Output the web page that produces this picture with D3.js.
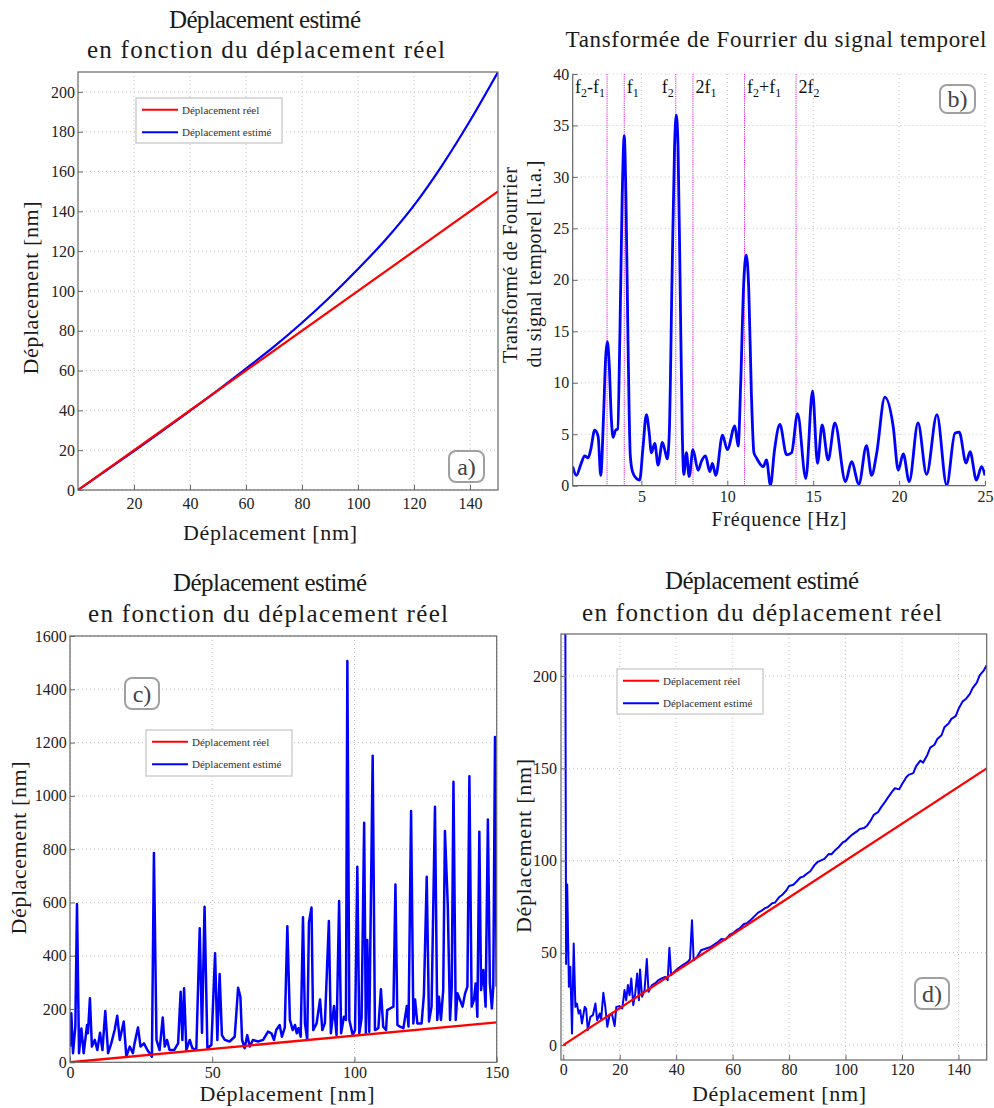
<!DOCTYPE html>
<html><head><meta charset="utf-8">
<script src="https://cdn.jsdelivr.net/npm/d3@7"></script>
<style>body{margin:0;background:#fff}</style>
</head><body>
<svg id="chart" width="994" height="1108"></svg>
<script>
const FONT = "Liberation Serif, serif";

// ---------- Panel a ----------
const aXTicks = [20, 40, 60, 80, 100, 120, 140];
const aYTicks = [0, 20, 40, 60, 80, 100, 120, 140, 160, 180, 200];
const aRealX = [0, 150];
const aRealY = [0, 150];
const aEstX = [0, 10, 20, 30, 40, 50, 60, 70, 80, 90, 100, 110, 120, 130, 140, 150];
const aEstY = [0, 9.8, 19.6, 29.6, 39.8, 50.2, 61, 72, 84, 97, 111, 126, 143, 163, 185.5, 210];

// ---------- Panel b ----------
const bXTicks = [5, 10, 15, 20, 25];
const bYTicks = [0, 5, 10, 15, 20, 25, 30, 35, 40];
const bMarkers = [3, 4, 7, 8, 11, 14];
const bFreq = [1.0, 1.21, 1.5, 1.7, 1.9, 2.05, 2.28, 2.48, 2.63, 2.8, 2.92, 3.02, 3.12, 3.25, 3.35, 3.5, 3.62, 3.75, 3.88, 4.0, 4.1, 4.22, 4.35, 4.48, 4.71, 4.9, 5.08, 5.29, 5.45, 5.58, 5.78, 5.97, 6.22, 6.4, 6.5, 6.62, 6.78, 6.93, 7.03, 7.13, 7.25, 7.38, 7.47, 7.62, 7.78, 8.0, 8.3, 8.5, 8.73, 8.98, 9.13, 9.33, 9.72, 10.0, 10.44, 10.63, 10.78, 10.95, 11.1, 11.25, 11.4, 11.55, 11.7, 12.09, 12.28, 12.51, 12.75, 13.06, 13.45, 13.74, 14.09, 14.57, 14.96, 15.25, 15.52, 15.87, 16.26, 16.88, 17.23, 17.66, 18.1, 18.4, 18.69, 19.17, 19.66, 19.95, 20.24, 20.59, 21.1, 21.6, 22.2, 22.77, 23.25, 23.5, 23.9, 24.13, 24.5, 24.8, 25.0];
const bAmp = [1.85, 1.0, 2.2, 2.9, 2.7, 3.5, 5.4, 4.8, 1.0, 7, 12.5, 14.0, 12, 6.5, 4.7, 5.4, 5.5, 15, 28, 34, 28, 14, 3, 1.36, 0.7, 0.55, 3.5, 6.9, 5.2, 3.2, 4.1, 2.0, 4.2, 3.2, 2.6, 5, 20, 33, 36, 33, 20, 5, 1.1, 3.2, 0.9, 3.5, 1.5, 2.4, 2.9, 1.36, 2.17, 1.0, 4.9, 3.5, 5.8, 3.85, 10, 19.5, 22.4, 19, 9, 3.2, 2.7, 1.85, 2.5, 0.05, 3.5, 5.95, 3.0, 3.2, 7.0, 0.7, 9.2, 2.17, 5.9, 2.5, 6.1, 0.4, 2.33, 0.16, 3.9, 1.0, 3.1, 8.6, 5.7, 1.5, 3.1, 0.4, 6.1, 1.1, 6.9, 0.06, 5.1, 5.2, 2.2, 3.3, 0.55, 1.85, 1.0];
// labels: segments [text, isSub]
const bLabels = [
  {at: 3, anchor: "end", segs: [["f", 0], ["2", 1], ["-f", 0], ["1", 1]]},
  {at: 4, anchor: "start", segs: [["f", 0], ["1", 1]]},
  {at: 7, anchor: "end", segs: [["f", 0], ["2", 1]]},
  {at: 8, anchor: "start", segs: [["2f", 0], ["1", 1]]},
  {at: 11, anchor: "start", segs: [["f", 0], ["2", 1], ["+f", 0], ["1", 1]]},
  {at: 14, anchor: "start", segs: [["2f", 0], ["2", 1]]}
];

// ---------- Panel c ----------
const cXTicks = [0, 50, 100, 150];
const cYTicks = [0, 200, 400, 600, 800, 1000, 1200, 1400, 1600];
const cRealX = [0, 150];
const cRealY = [0, 150];
const cEstX = [0, 0.47, 1.06, 1.88, 2.46, 3.17, 4.0, 4.8, 6.0, 6.3, 7.0, 7.7, 8.7, 9.6, 10.55, 11.4, 12.4, 13.4, 14.5, 15.7, 16.6, 17.5, 18.9, 19.8, 21, 22.1, 22.7, 23.9, 24.8, 26, 27.2, 28, 28.8, 29.5, 30.4, 31.5, 32.6, 33.3, 34.1, 35, 36.6, 38, 38.9, 39.5, 40.1, 40.9, 42.1, 43, 44.4, 45.6, 46.4, 47.3, 48.3, 49.7, 51, 51.8, 52.6, 53.4, 54.4, 56.1, 57.9, 59.1, 59.9, 60.5, 61.4, 62.3, 63.2, 64.3, 66.1, 67.9, 69.6, 70.8, 71.7, 72.5, 73.7, 74.5, 75.5, 76.4, 77.3, 78.3, 79.1, 79.7, 80.3, 81.1, 81.9, 82.6, 83.4, 84, 84.9, 85.5, 86.7, 87.9, 88.7, 89.6, 91, 91.7, 92.8, 93.7, 94.6, 95.3, 96.3, 97, 97.5, 98.2, 99.4, 100.2, 101, 101.7, 102.5, 103.4, 104, 104.5, 105.2, 106.4, 107.2, 108.4, 109.3, 110.1, 111.1, 111.5, 112.5, 113.7, 114.4, 115.1, 116, 117.2, 118.4, 119, 119.9, 120.7, 121.3, 122.1, 123.6, 124.4, 125.4, 126.2, 127.1, 128.3, 129.1, 129.7, 130.4, 131.2, 131.8, 132.8, 133.6, 134.2, 134.8, 135.6, 136.2, 137.1, 138, 138.9, 139.7, 140.4, 141.2, 142, 142.6, 143.2, 143.9, 144.5, 145.3, 146.1, 146.9, 147.6, 148.3, 148.8, 149.4, 150];
const cEstY = [58, 184, 34, 134, 594, 34, 127, 34, 140, 109, 240, 59, 84, 46, 111, 46, 193, 34, 71, 121, 175, 84, 153, 21, 59, 34, 71, 131, 59, 71, 46, 34, 21, 786, 84, 46, 168, 59, 84, 46, 46, 71, 265, 84, 278, 46, 84, 53, 46, 503, 111, 584, 53, 65, 409, 84, 331, 102, 84, 78, 96, 280, 246, 84, 53, 102, 59, 84, 78, 84, 115, 109, 84, 121, 140, 96, 130, 511, 159, 121, 140, 109, 128, 96, 544, 146, 84, 525, 581, 121, 146, 236, 121, 146, 530, 109, 211, 102, 605, 109, 171, 159, 1506, 159, 102, 121, 734, 109, 165, 899, 109, 459, 115, 1151, 121, 128, 274, 134, 121, 196, 202, 209, 667, 140, 134, 128, 211, 134, 943, 146, 236, 146, 146, 252, 696, 153, 209, 959, 159, 246, 159, 271, 868, 590, 159, 284, 1053, 159, 259, 234, 209, 259, 284, 1074, 209, 234, 296, 171, 865, 271, 346, 209, 911, 296, 202, 284, 1221, 284];

// ---------- Panel d ----------
const dXTicks = [0, 20, 40, 60, 80, 100, 120, 140];
const dYTicks = [0, 50, 100, 150, 200];
const dRealX = [0, 150];
const dRealY = [0, 150];
const dEstX = [0.6, 1.0, 1.4, 2.0, 2.5, 3.1, 3.7, 4.3, 4.85, 5.45, 6.0, 6.6, 7.6, 8.1, 8.7, 9.6, 10.5, 11.4, 12.0, 12.9, 13.4, 14.2, 14.9, 15.6, 16.4, 17.2, 18.2, 18.8, 19.9, 20.9, 21.7, 22.3, 22.9, 23.5, 24.1, 24.8, 25.5, 26.2, 26.8, 27.2, 27.9, 28.8, 29.6, 30.2, 31.4, 32.5, 33.7, 34.9, 36.1, 37, 37.6, 38.2, 39.4, 40.6, 42.3, 44.1, 44.9, 45.6, 46.2, 47.4, 48.8, 50.6, 52.3, 54.5, 56, 57.5, 59, 60, 61.5, 62.5, 64, 65, 66.5, 67.5, 69, 70, 71.5, 72.5, 74, 75, 76.5, 77.5, 79, 80, 81.5, 82.5, 84, 85, 86.5, 87.5, 89, 90, 91.5, 92.5, 94, 95, 96.5, 97.5, 99, 100, 101.5, 102.5, 104, 105, 106.5, 107.5, 109, 110, 111.5, 112.5, 114, 115, 116.5, 117.5, 119, 120, 121.5, 122.5, 124, 125, 126.5, 127.5, 129, 130, 131.5, 132.5, 134, 135, 136.5, 137.5, 139, 140, 141.5, 142.5, 144, 145, 146.5, 147.5, 149, 150];
const dEstY = [330, 44, 87, 31.6, 42.4, 6.3, 55, 20.7, 22.5, 17.1, 18.9, 11.7, 20.7, 19.8, 8.1, 15.3, 16.2, 22.5, 13.5, 17.1, 13.5, 28.3, 20.7, 9.9, 16.2, 17.1, 10.3, 20.7, 21.1, 19.8, 29.8, 24.3, 32.5, 27, 36.1, 21.6, 28, 38.8, 24.3, 41, 26.2, 29.8, 46.6, 28.9, 32.5, 33.4, 35.2, 36.1, 37, 35.2, 52.7, 37.9, 39.7, 41.5, 43.3, 45.1, 46.6, 67.7, 46, 47.8, 51.4, 52.3, 53.2, 55.5, 57.5, 57.2, 59.8, 60.5, 62.4, 63.3, 65.6, 66, 67.9, 69.5, 71.8, 72.6, 74.2, 74.8, 76.9, 77.2, 80.2, 81.3, 83.8, 86.2, 86.9, 88.4, 90.8, 91.3, 93.1, 94.2, 97.5, 99.1, 100.2, 100.9, 103.5, 103.4, 105.9, 107.2, 109.8, 110.6, 112.9, 114.2, 115.8, 117.1, 117.6, 118.7, 121.9, 124.8, 126.2, 128.7, 131.8, 134.1, 137.4, 139.2, 138.6, 141.4, 145.2, 146.6, 147.4, 151.2, 154.2, 153.1, 157.4, 161.2, 162.8, 165.9, 167.9, 172.2, 174.3, 176.8, 178.3, 182.1, 186.3, 187.4, 190.2, 193.5, 196.4, 200.4, 203.1, 205.8, 208.4];

const svg = d3.select("#chart");
const defs = svg.append("defs");
const fmt = d3.format("d");

function drawPanel(p) {
  const x = d3.scaleLinear().domain(p.xDomain).range([p.left, p.right]);
  const y = d3.scaleLinear().domain(p.yDomain).range([p.bottom, p.top]);
  const g = svg.append("g");

  // grid
  g.append("g").selectAll("line").data(p.xTicks).join("line")
    .attr("x1", d => x(d)).attr("x2", d => x(d)).attr("y1", p.top).attr("y2", p.bottom)
    .attr("stroke", "#c4c4c4").attr("stroke-width", 1).attr("stroke-dasharray", "1,3");
  g.append("g").selectAll("line").data(p.yTicks).join("line")
    .attr("y1", d => y(d)).attr("y2", d => y(d)).attr("x1", p.left).attr("x2", p.right)
    .attr("stroke", "#c4c4c4").attr("stroke-width", 1).attr("stroke-dasharray", "1,3");

  // clip
  const cid = "clip-" + p.name;
  defs.append("clipPath").attr("id", cid).append("rect")
    .attr("x", p.left).attr("y", p.top).attr("width", p.right - p.left).attr("height", p.bottom - p.top);

  if (p.extra) p.extra(g, x, y);

  // series
  p.series.forEach(s => {
    const pts = s.x.map((v, i) => [v, s.y[i]]);
    g.append("path").datum(pts)
      .attr("d", d3.line().x(d => x(d[0])).y(d => y(d[1])).curve(s.curve || d3.curveLinear))
      .attr("fill", "none").attr("stroke", s.color).attr("stroke-width", s.width)
      .attr("stroke-linejoin", "round")
      .attr("clip-path", `url(#${cid})`);
  });

  // axes
  const ax = g.append("g").attr("transform", `translate(0,${p.bottom})`)
    .call(d3.axisBottom(x).tickValues(p.xTicks).tickFormat(fmt).tickSize(-5).tickSizeOuter(0).tickPadding(p.xPad));
  const ay = g.append("g").attr("transform", `translate(${p.left},0)`)
    .call(d3.axisLeft(y).tickValues(p.yTicks).tickFormat(fmt).tickSize(-5).tickSizeOuter(0).tickPadding(p.yPad));
  [ax, ay].forEach(a => {
    a.attr("font-family", FONT).attr("font-size", 16);
    a.select(".domain").remove();
    a.selectAll(".tick line").attr("stroke", "#666");
    a.selectAll(".tick text").attr("fill", "#222");
  });

  // frame
  if (p.frame) {
    g.append("rect").attr("x", p.left).attr("y", p.top).attr("width", p.right - p.left).attr("height", p.bottom - p.top)
      .attr("fill", "none").attr("stroke", "#666").attr("stroke-width", 1.2);
  } else {
    g.append("path").attr("d", `M${p.left},${p.top}V${p.bottom}H${p.right}`)
      .attr("fill", "none").attr("stroke", "#666").attr("stroke-width", 1.2);
  }

  // legend
  if (p.legend) {
    const L = p.legend;
    g.append("rect").attr("x", L.x).attr("y", L.y).attr("width", L.w).attr("height", L.h)
      .attr("fill", "#fff").attr("stroke", "#cfcfcf").attr("stroke-width", 1.5);
    L.items.forEach((it, i) => {
      const yy = L.y + 11.7 + i * 22.6;
      g.append("line").attr("x1", L.x + 6).attr("x2", L.x + 42).attr("y1", yy).attr("y2", yy)
        .attr("stroke", it.color).attr("stroke-width", 2);
      g.append("text").attr("x", L.x + 46).attr("y", yy + 3.8).text(it.label)
        .attr("font-family", FONT).attr("font-size", 11).attr("fill", "#333");
    });
  }

  // panel tag
  const T = p.tag;
  g.append("rect").attr("x", T.x).attr("y", T.y).attr("width", T.w).attr("height", T.h).attr("rx", 7)
    .attr("fill", "#fff").attr("stroke", "#a0a0a0").attr("stroke-width", 2);
  g.append("text").attr("x", T.x + T.w / 2).attr("y", T.y + T.h / 2 + 8).attr("text-anchor", "middle")
    .text(T.text).attr("font-family", FONT).attr("font-size", 24).attr("fill", "#444");

  const addText = (t, rotate) => {
    const el = g.append("text").attr("text-anchor", "middle")
      .attr("font-family", FONT).attr("font-size", t.size).attr("fill", "#1a1a1a")
      .attr("textLength", t.len).attr("lengthAdjust", "spacing").text(t.text);
    if (rotate) el.attr("transform", `translate(${t.x},${t.y}) rotate(-90)`);
    else el.attr("x", t.x).attr("y", t.y);
  };
  p.titles.forEach(t => addText(t, false));
  p.xLabels.forEach(t => addText(t, false));
  p.yLabels.forEach(t => addText(t, true));
}

const legendItems = [
  {label: "Déplacement réel", color: "#ff0000"},
  {label: "Déplacement estimé", color: "#0000ff"}
];

// Panel a
drawPanel({
  name: "a", left: 78, right: 498, top: 72, bottom: 490,
  xDomain: [0, 150], yDomain: [0, 210], xTicks: aXTicks, yTicks: aYTicks, xPad: 8, yPad: 3, frame: true,
  series: [
    {x: aEstX, y: aEstY, color: "#0000ff", width: 2.2, curve: d3.curveMonotoneX},
    {x: aRealX, y: aRealY, color: "#ff0000", width: 2.2}
  ],
  legend: {x: 136, y: 98, w: 146, h: 45, items: legendItems},
  tag: {x: 449, y: 451, w: 35, h: 31, text: "a)"},
  titles: [
    {text: "Déplacement estimé", x: 265, y: 28, size: 25, len: 192},
    {text: "en fonction du déplacement réel", x: 266, y: 58, size: 25, len: 358}
  ],
  xLabels: [{text: "Déplacement [nm]", x: 270, y: 540, size: 22, len: 174}],
  yLabels: [{text: "Déplacement [nm]", x: 38, y: 288, size: 22, len: 173}]
});

// Panel b
drawPanel({
  name: "b", left: 572.7, right: 985, top: 74, bottom: 485.7,
  xDomain: [1, 25], yDomain: [0, 40], xTicks: bXTicks, yTicks: bYTicks, xPad: 5, yPad: 3.5, frame: false,
  extra: (g, x, y) => {
    g.append("g").selectAll("line").data(bMarkers).join("line")
      .attr("x1", d => x(d)).attr("x2", d => x(d)).attr("y1", y(40)).attr("y2", y(0))
      .attr("stroke", "#e020d0").attr("stroke-width", 1).attr("stroke-dasharray", "1.2,1");
    bLabels.forEach(l => {
      const off = l.anchor === "end" ? -2 : 2.5;
      const t = g.append("text").attr("x", x(l.at) + off).attr("y", 97).attr("text-anchor", l.anchor)
        .attr("font-family", FONT).attr("font-size", 18).attr("fill", "#111");
      l.segs.forEach(s => {
        if (s[1]) t.append("tspan").attr("font-size", 12).attr("dy", 4).text(s[0]);
        else t.append("tspan").attr("font-size", 18).attr("dy", t.selectAll("tspan").size() ? -4 : 0).text(s[0]);
      });
    });
  },
  series: [{x: bFreq, y: bAmp, color: "#0000ff", width: 2.8, curve: d3.curveMonotoneX}],
  tag: {x: 940, y: 85, w: 35, h: 28, text: "b)"},
  titles: [{text: "Tansformée de Fourrier du signal temporel", x: 776, y: 47, size: 23, len: 421}],
  xLabels: [{text: "Fréquence [Hz]", x: 779, y: 526, size: 20, len: 135}],
  yLabels: [
    {text: "Transformé de Fourrier", x: 517, y: 265, size: 20, len: 196},
    {text: "du signal temporel [u.a.]", x: 541, y: 264, size: 20, len: 207}
  ]
});

// Panel c
drawPanel({
  name: "c", left: 70, right: 496.7, top: 636, bottom: 1062.3,
  xDomain: [0, 150], yDomain: [0, 1600], xTicks: cXTicks, yTicks: cYTicks, xPad: 4, yPad: 3.3, frame: true,
  series: [
    {x: cEstX, y: cEstY, color: "#0000ff", width: 2.5},
    {x: cRealX, y: cRealY, color: "#ff0000", width: 2.4}
  ],
  legend: {x: 146, y: 730, w: 146, h: 46, items: legendItems},
  tag: {x: 125, y: 678, w: 34, h: 31, text: "c)"},
  titles: [
    {text: "Déplacement estimé", x: 270, y: 591, size: 25, len: 194},
    {text: "en fonction du déplacement réel", x: 268, y: 622, size: 25, len: 360}
  ],
  xLabels: [{text: "Déplacement [nm]", x: 287, y: 1101, size: 22, len: 175}],
  yLabels: [{text: "Déplacement [nm]", x: 26, y: 848, size: 22, len: 173}]
});

// Panel d
drawPanel({
  name: "d", left: 561, right: 986.7, top: 634, bottom: 1060,
  xDomain: [-0.8, 150], yDomain: [-8.1, 222.8], xTicks: dXTicks, yTicks: dYTicks, xPad: 4, yPad: 4, frame: true,
  series: [
    {x: dEstX, y: dEstY, color: "#0000ff", width: 2},
    {x: dRealX, y: dRealY, color: "#ff0000", width: 2.2}
  ],
  legend: {x: 617, y: 669, w: 146, h: 45, items: legendItems},
  tag: {x: 915, y: 978, w: 34, h: 31, text: "d)"},
  titles: [
    {text: "Déplacement estimé", x: 762, y: 589, size: 25, len: 194},
    {text: "en fonction du déplacement réel", x: 762, y: 621, size: 25, len: 360}
  ],
  xLabels: [{text: "Déplacement [nm]", x: 779, y: 1101, size: 22, len: 174}],
  yLabels: [{text: "Déplacement [nm]", x: 531, y: 846, size: 22, len: 174}]
});
</script>
</body></html>
